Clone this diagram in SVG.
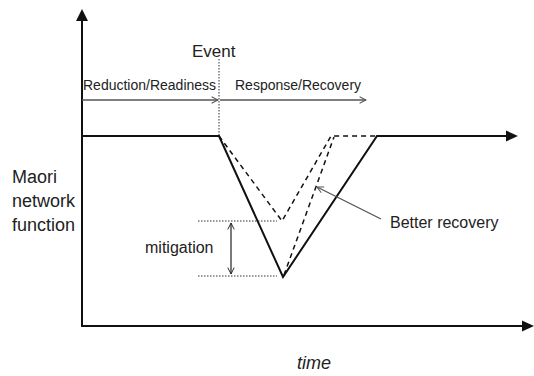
<svg xmlns="http://www.w3.org/2000/svg" width="534" height="376" viewBox="0 0 534 376">
  <defs>
    <marker id="open" viewBox="0 0 10 10" refX="9" refY="5" markerWidth="8" markerHeight="8" markerUnits="userSpaceOnUse" orient="auto-start-reverse">
      <path d="M1,1 L9,5 L1,9" fill="none" stroke="#555" stroke-width="1.3"/>
    </marker>
    <marker id="openBlack" viewBox="0 0 10 10" refX="9" refY="5" markerWidth="8" markerHeight="8" markerUnits="userSpaceOnUse" orient="auto-start-reverse">
      <path d="M1,1 L9,5 L1,9" fill="none" stroke="#222" stroke-width="1.2"/>
    </marker>
  </defs>
  <style>
    text { font-family: "Liberation Sans", Arial, sans-serif; fill: #222; }
    .axis { stroke: #111; stroke-width: 2; fill: none; }
    .curve { stroke: #111; stroke-width: 2; fill: none; stroke-linejoin: miter; }
    .dash { stroke: #111; stroke-width: 1.5; fill: none; stroke-dasharray: 5 4; }
    .dot { stroke: #333; stroke-width: 1; fill: none; stroke-dasharray: 1.5 1.5; }
    .thin { stroke: #555; stroke-width: 1.3; fill: none; }
  </style>

  <rect width="534" height="376" fill="#fff"/>

  <!-- axes -->
  <g id="axes">
    <line class="axis" x1="82" y1="327" x2="82" y2="20"/>
    <polygon points="82,9 76,21 88,21" fill="#111"/>
    <line class="axis" x1="81" y1="326" x2="524" y2="326"/>
    <polygon points="534,326 522,320.5 522,331.5" fill="#111"/>
    <text x="297" y="369" font-size="18" font-style="italic">time</text>
    <text font-size="18">
      <tspan x="12" y="183">Maori</tspan>
      <tspan x="12" y="207">network</tspan>
      <tspan x="12" y="231">function</tspan>
    </text>
  </g>

  <!-- event marker and phases -->
  <g id="event">
    <text x="192" y="57" font-size="17">Event</text>
    <line class="dot" x1="219" y1="59" x2="219" y2="136"/>
  </g>
  <g id="phases">
    <text x="83" y="90" font-size="14">Reduction/Readiness</text>
    <text x="235" y="90" font-size="14">Response/Recovery</text>
    <line class="thin" x1="82" y1="100" x2="218" y2="100" marker-end="url(#open)"/>
    <line class="thin" x1="220" y1="100" x2="366" y2="100" marker-end="url(#open)"/>
  </g>

  <!-- network function curves -->
  <g id="function">
    <polyline class="curve" points="82,136 219,136 283,277 377,136 507,136"/>
    <polygon points="518,136 506,130.5 506,141.5" fill="#111"/>
  </g>
  <g id="improved">
    <polyline class="dash" points="219,136 282,221 331,136 377,136"/>
    <line class="dash" x1="284" y1="275" x2="334" y2="137"/>
  </g>

  <!-- mitigation -->
  <g id="mitigation">
    <line class="dot" x1="198" y1="221" x2="277" y2="221"/>
    <line class="dot" x1="198" y1="276" x2="277" y2="276"/>
    <line stroke="#222" stroke-width="1.2" x1="231" y1="223" x2="231" y2="274" marker-start="url(#openBlack)" marker-end="url(#openBlack)"/>
    <text x="145" y="253" font-size="16">mitigation</text>
  </g>

  <!-- better recovery -->
  <g id="better-recovery">
    <line class="thin" x1="381" y1="219" x2="317" y2="187" marker-end="url(#open)"/>
    <text x="390" y="228" font-size="16">Better recovery</text>
  </g>
</svg>
